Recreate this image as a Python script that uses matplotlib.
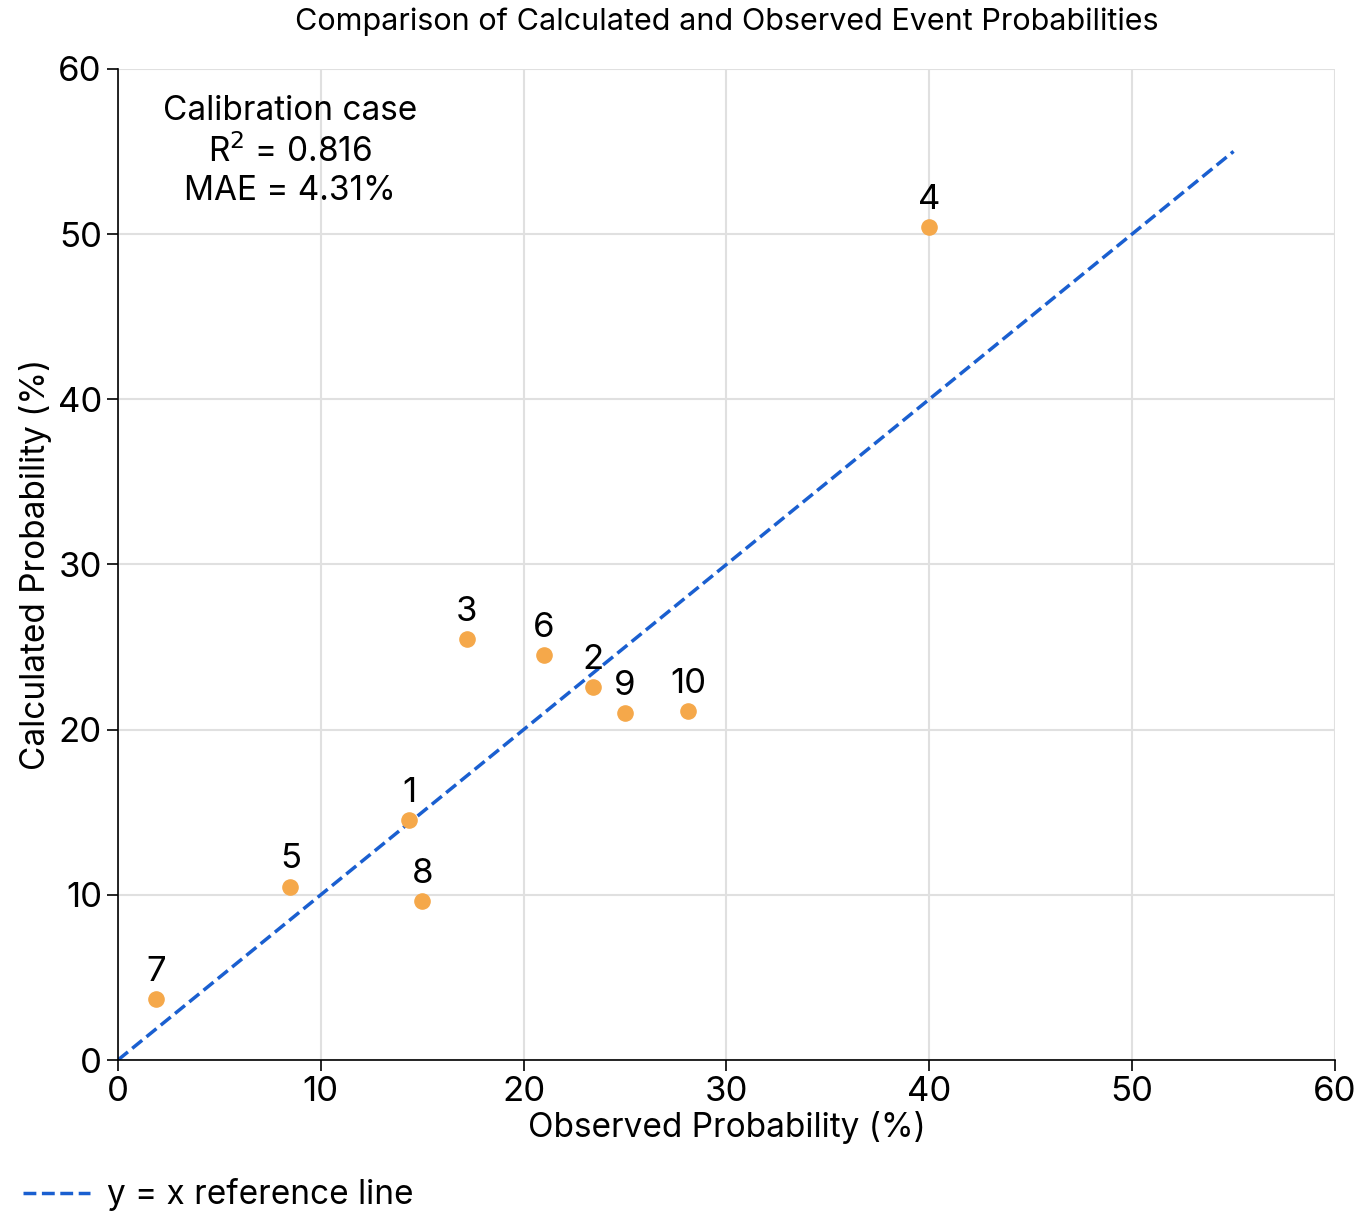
import matplotlib
matplotlib.use("Agg")
from matplotlib import pyplot as plt

plt.rcParams['font.family'] = ['Inter', 'DejaVu Sans']

events = ['1', '2', '3', '4', '5', '6', '7', '8', '9', '10']
observed = [14.35, 23.4, 17.2, 40.0, 8.5, 21.0, 1.9, 15.0, 25.0, 28.1]
calculated = [14.5, 22.6, 25.5, 50.4, 10.5, 24.5, 3.7, 9.6, 21.0, 21.1]
ref_x = [0, 55]

fig = plt.figure(figsize=(13.65, 12.29), dpi=100)
ax = fig.add_axes([0.0864, 0.1375, 0.8916, 0.8065])

line, = ax.plot(ref_x, ref_x, '--', color='#1a5fd0', lw=2.5, label='y = x reference line')
ax.scatter(observed, calculated, s=120, color='#f5a84a', zorder=3)
for e, x, y in zip(events, observed, calculated):
    ax.annotate(e, (x, y), xytext=(0, 8), textcoords='offset points',
                ha='center', va='bottom', fontsize=25)

ax.set_xlim(0, 60)
ax.set_ylim(0, 60)
ax.set_xticks(range(0, 61, 10))
ax.set_yticks(range(0, 61, 10))
ax.tick_params(labelsize=25, length=8, width=1.2)
ax.grid(True, color='#e0e0e0', lw=1.5)
ax.set_axisbelow(True)
for s in ['top', 'right']:
    ax.spines[s].set_visible(False)
for s in ['left', 'bottom']:
    ax.spines[s].set_linewidth(1.2)

ax.set_xlabel('Observed Probability (%)', fontsize=24, labelpad=2)
ax.set_ylabel('Calculated Probability (%)', fontsize=24, labelpad=4)
ax.set_title('Comparison of Calculated and Observed Event Probabilities', fontsize=22, pad=28)

ax.text(8.5, 58.4, 'Calibration case\nR$^2$ = 0.816\nMAE = 4.31%', ha='center', va='top',
        fontsize=24, linespacing=1.25)

fig.legend(handles=[line], loc='lower left', bbox_to_anchor=(-0.005, -0.01), frameon=False,
           fontsize=24, handlelength=2.0, handletextpad=0.5)

fig.savefig('out.png', dpi=100)
